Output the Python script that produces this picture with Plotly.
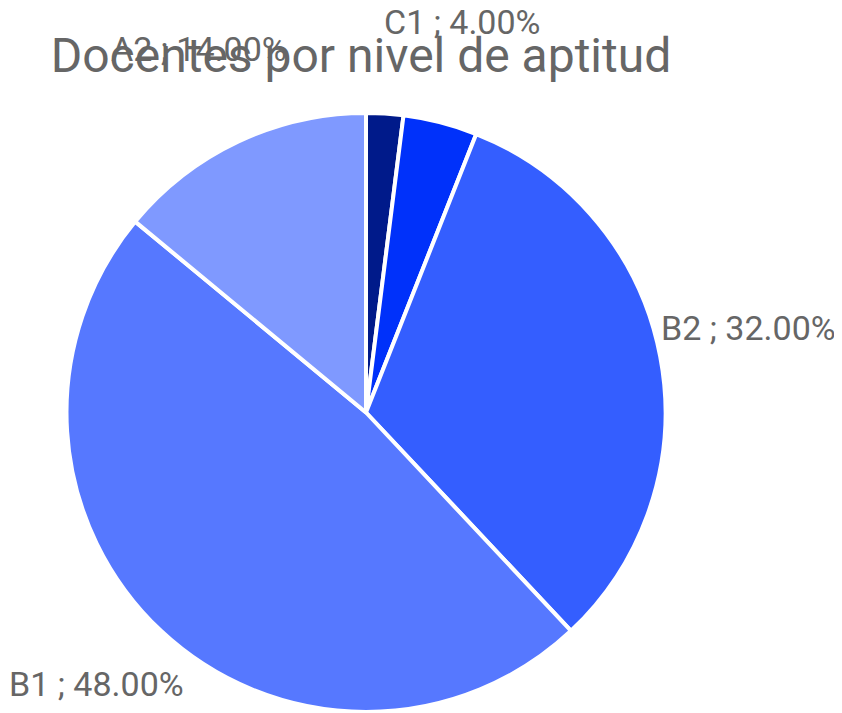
import plotly.graph_objects as go

labels = ["C2", "C1", "B2", "B1", "A2"]
values = [2, 4, 32, 48, 14]
colors = ["#001A8A", "#0031FA", "#345EFF", "#5678FF", "#7F99FF"]
show_label = [False, True, True, True, True]
# label anchor positions (left edge x, vertical middle y), in pixels of the 842x713 window
label_pos = {"C1": (382, 22), "B2": (659, 328), "B1": (7, 684), "A2": (109, 49)}

OFF = 8  # page body margin
W, H = 842 - OFF, 713 - OFF
total = sum(values)
texts = [f"{l} ; {v / total * 100:.2f}%" for l, v in zip(labels, values)]


def fx(px):
    return (px - OFF) / W


def fy(py):
    return 1 - (py - OFF) / H


fig = go.Figure(go.Pie(
    labels=labels,
    values=values,
    text=texts,
    textinfo="none",
    sort=False,
    direction="clockwise",
    rotation=0,
    marker=dict(colors=colors, line=dict(color="white", width=4)),
    domain=dict(x=[fx(66.5), fx(665.5)], y=[fy(712), fy(113)]),
    showlegend=False,
    hovertemplate="%{text}<extra></extra>",
))

for l, t, s in zip(labels, texts, show_label):
    if not s:
        continue
    px, py = label_pos[l]
    fig.add_annotation(
        text=t, xref="paper", yref="paper",
        x=fx(px), y=fy(py), xanchor="left", yanchor="middle",
        showarrow=False,
        font=dict(family="Roboto", size=34, color="#666666"),
    )

fig.update_layout(
    width=W, height=H,
    margin=dict(l=0, r=0, t=0, b=0),
    paper_bgcolor="white",
    plot_bgcolor="white",
    title=dict(text="Docentes por nivel de aptitud",
               x=fx(361), xanchor="center",
               y=fy(55), yanchor="middle",
               font=dict(family="Roboto", size=48, color="#666666")),
)

fig.write_html("out.html")
